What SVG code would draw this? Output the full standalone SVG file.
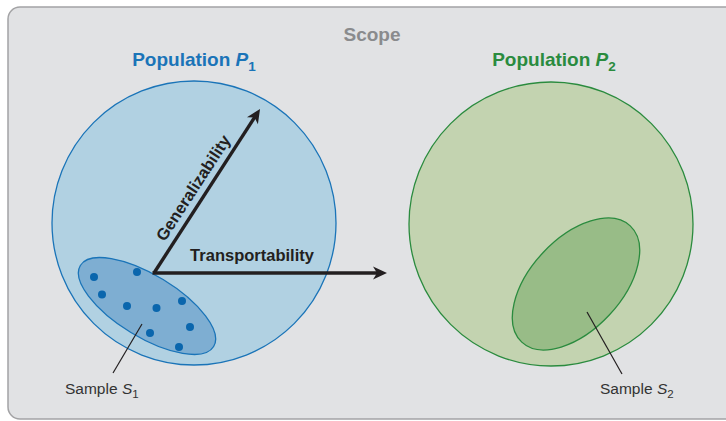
<svg xmlns="http://www.w3.org/2000/svg" width="726" height="421" viewBox="0 0 726 421">
  <style>
    .title { font-family: "Liberation Sans", Arial, sans-serif; font-weight: bold; font-size: 19px; }
    .lbl { font-family: "Liberation Sans", Arial, sans-serif; font-weight: bold; font-size: 16.5px; fill: #231f20; }
    .samp { font-family: "Liberation Sans", Arial, sans-serif; font-size: 15.5px; fill: #333333; }
    .dot { fill: #0a66ad; }
    .lead { stroke: #231f20; stroke-width: 1.2; fill: none; }
    .arrow { stroke: #231f20; stroke-width: 3.4; fill: none; marker-end: url(#ah); }
  </style>
  <defs>
    <marker id="ah" markerUnits="userSpaceOnUse" markerWidth="24" markerHeight="24" viewBox="-12 -12 24 24" refX="0" refY="0" orient="auto">
      <path d="M8,0 L-6,-6.5 L-2,0 L-6,6.5 Z" fill="#231f20"/>
    </marker>
  </defs>

  <rect x="8" y="7" width="740" height="412" rx="12" ry="12" fill="#e1e2e4" stroke="#a3a3a5" stroke-width="1.5"/>

  <text id="scope" class="title" x="372" y="41" text-anchor="middle" fill="#8a8b8d" font-size="18.5">Scope</text>

  <g id="population-p1">
    <circle cx="194" cy="223" r="142" fill="#b1d1e2" stroke="#1a74b8" stroke-width="1.3"/>
    <text class="title" x="194" y="66" text-anchor="middle" fill="#1a74b8">Population <tspan font-style="italic">P</tspan><tspan font-size="13.5" dy="5">1</tspan></text>
  </g>

  <g id="population-p2">
    <circle cx="551" cy="224" r="142" fill="#c3d3b0" stroke="#2a8b3e" stroke-width="1.3"/>
    <text class="title" x="554" y="66" text-anchor="middle" fill="#2a8b3e">Population <tspan font-style="italic">P</tspan><tspan font-size="13.5" dy="5">2</tspan></text>
  </g>

  <g id="sample-s1">
    <ellipse cx="147" cy="306" rx="78" ry="31" transform="rotate(31.3 147 306)" fill="#7eaed2" stroke="#1a74b8" stroke-width="1.3"/>
    <circle class="dot" cx="94" cy="277" r="4"/>
    <circle class="dot" cx="137" cy="272" r="4"/>
    <circle class="dot" cx="102" cy="294.5" r="4"/>
    <circle class="dot" cx="127" cy="306" r="4"/>
    <circle class="dot" cx="156.5" cy="308" r="4"/>
    <circle class="dot" cx="182" cy="301" r="4"/>
    <circle class="dot" cx="190" cy="327" r="4"/>
    <circle class="dot" cx="150" cy="333" r="4"/>
    <circle class="dot" cx="179" cy="347" r="4"/>
    <line class="lead" x1="142" y1="324" x2="113" y2="373"/>
    <text class="samp" x="65" y="394">Sample <tspan font-style="italic">S</tspan><tspan font-size="11.5" dy="4">1</tspan></text>
  </g>

  <g id="sample-s2">
    <ellipse cx="576" cy="284" rx="79.5" ry="45.5" transform="rotate(-47 576 284)" fill="#98bc87" stroke="#2a8b3e" stroke-width="1.3"/>
    <line class="lead" x1="587" y1="312" x2="622" y2="374"/>
    <text class="samp" x="600" y="394">Sample <tspan font-style="italic">S</tspan><tspan font-size="11.5" dy="4">2</tspan></text>
  </g>

  <g id="connectors">
    <line class="arrow" x1="154" y1="273" x2="255.7" y2="115.7"/>
    <line class="arrow" x1="152.5" y1="273" x2="379" y2="273"/>
    <text class="lbl" transform="translate(198 191) rotate(-57)" text-anchor="middle">Generalizability</text>
    <text class="lbl" x="252" y="260.5" text-anchor="middle">Transportability</text>
  </g>
</svg>
